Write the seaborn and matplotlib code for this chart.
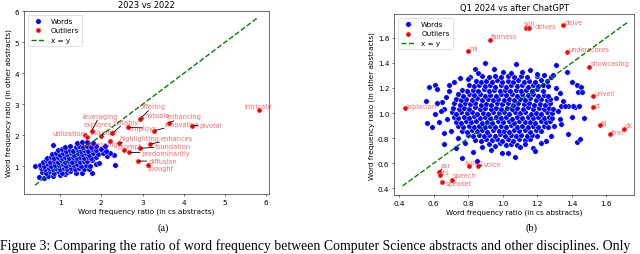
import matplotlib
matplotlib.use("Agg")
import matplotlib.pyplot as plt
import numpy as np
import pandas as pd
import seaborn as sns

# ---------------- panel (a): 2023 vs 2022 ----------------
# ordinary words (ratio in cs abstracts, ratio in other abstracts)
words_a = [
    (0.50, 0.66), (0.60, 0.61), (0.71, 0.70), (0.83, 0.68), (1.00, 0.72), (1.13, 0.74),
    (0.56, 0.82), (0.66, 0.78), (0.75, 0.84), (0.86, 0.80), (0.95, 0.85), (1.05, 0.79),
    (1.16, 0.83), (1.25, 0.84), (1.38, 0.80), (1.53, 0.78), (1.77, 0.77),
    (0.55, 0.95), (0.64, 0.90), (0.73, 0.94), (0.82, 0.91), (0.91, 0.96), (1.00, 0.90),
    (1.09, 0.94), (1.18, 0.92), (1.27, 0.95), (1.36, 0.91), (1.46, 0.94), (1.58, 0.90),
    (1.70, 0.93),
    (0.39, 1.00), (0.52, 1.05), (0.61, 1.02), (0.70, 1.06), (0.79, 1.01), (0.88, 1.05),
    (0.97, 1.03), (1.06, 1.07), (1.15, 1.02), (1.24, 1.06), (1.33, 1.03), (1.42, 1.07),
    (1.51, 1.02), (1.62, 1.05), (1.73, 1.01), (1.86, 1.06), (2.33, 1.05),
    (0.58, 1.15), (0.67, 1.19), (0.76, 1.14), (0.85, 1.18), (0.94, 1.15), (1.03, 1.19),
    (1.12, 1.14), (1.21, 1.18), (1.30, 1.15), (1.39, 1.19), (1.48, 1.14), (1.57, 1.18),
    (1.66, 1.16), (1.78, 1.19), (1.94, 1.12),
    (0.68, 1.27), (0.77, 1.31), (0.86, 1.26), (0.95, 1.30), (1.04, 1.27), (1.13, 1.31),
    (1.22, 1.26), (1.31, 1.30), (1.40, 1.27), (1.49, 1.31), (1.58, 1.26), (1.67, 1.30),
    (1.76, 1.27), (1.88, 1.30), (2.13, 1.34), (2.32, 1.36),
    (0.80, 1.40), (0.90, 1.43), (0.99, 1.38), (1.08, 1.42), (1.17, 1.39), (1.26, 1.43),
    (1.35, 1.38), (1.44, 1.42), (1.53, 1.39), (1.62, 1.43), (1.71, 1.38), (1.80, 1.42),
    (1.92, 1.40), (2.05, 1.44), (2.20, 1.42),
    (0.95, 1.52), (1.05, 1.55), (1.14, 1.50), (1.23, 1.54), (1.32, 1.51), (1.41, 1.55),
    (1.50, 1.50), (1.59, 1.54), (1.68, 1.51), (1.77, 1.55), (1.88, 1.52), (2.00, 1.55),
    (2.12, 1.50),
    (0.84, 1.69), (1.12, 1.62), (1.25, 1.66), (1.38, 1.63), (1.47, 1.67), (1.56, 1.62),
    (1.66, 1.66), (1.76, 1.63), (1.87, 1.67), (2.09, 1.66),
    (1.42, 1.74), (1.54, 1.79), (1.66, 1.79), (1.80, 1.75),
]

outlier_words_a = [
    "offering", "notable", "leveraging", "explores", "utilization", "valuable",
    "notably", "employs", "addressing", "highlighting", "prompt", "predominantly",
    "foundation", "enhances", "innovative", "enhancing", "pivotal", "diffusion",
    "thought", "intricate",
]
outliers_a = [
    (2.96, 2.56), (2.93, 2.52), (1.77, 2.15), (1.61, 2.02), (1.66, 1.95), (2.00, 1.97),
    (2.27, 2.07), (2.64, 2.26), (2.21, 1.83), (2.43, 1.74), (2.56, 1.53), (2.67, 1.45),
    (2.93, 1.58), (3.19, 1.72), (3.28, 2.15), (3.64, 2.40), (4.20, 2.31), (2.88, 1.17),
    (3.13, 1.04), (5.82, 2.81),
]
# where each label sits (left edge, vertical centre) and whether a leader line is drawn
labels_at_a = [
    (2.94, 2.94), (3.04, 2.66), (1.53, 2.63), (1.57, 2.36), (0.82, 2.08), (1.73, 2.10),
    (2.29, 2.44), (2.66, 2.24), (1.53, 1.72), (2.44, 1.91), (2.38, 1.66), (2.97, 1.44),
    (3.31, 1.66), (3.45, 1.90), (3.53, 2.37), (3.59, 2.61), (4.38, 2.33), (3.14, 1.17),
    (3.14, 0.95), (5.47, 2.94),
]
leaders_a = [True, True, True, False, False, True, True, True, False, True, False, True,
             True, True, True, True, True, True, False, False]

# ---------------- panel (b): Q1 2024 vs after ChatGPT ----------------
words_b = [
    (0.921, 0.752), (0.953, 0.741), (0.985, 0.758), (1.018, 0.745), (1.049, 0.755), (1.082, 0.748),
    (0.842, 0.789), (0.874, 0.779), (0.903, 0.792), (0.936, 0.783), (0.967, 0.795), (0.998, 0.781),
    (1.031, 0.790), (1.062, 0.778), (1.093, 0.793), (1.127, 0.784), (1.158, 0.790),
    (0.801, 0.825), (0.829, 0.816), (0.862, 0.829), (0.891, 0.818), (0.922, 0.827), (0.954, 0.815),
    (0.983, 0.830), (1.014, 0.819), (1.046, 0.826), (1.077, 0.814), (1.108, 0.828), (1.139, 0.820),
    (1.171, 0.825), (1.199, 0.816),
    (0.762, 0.861), (0.793, 0.852), (0.824, 0.864), (0.851, 0.855), (0.883, 0.862), (0.912, 0.850),
    (0.945, 0.866), (0.976, 0.854), (1.005, 0.861), (1.036, 0.851), (1.068, 0.865), (1.097, 0.856),
    (1.129, 0.862), (1.160, 0.852), (1.191, 0.864), (1.224, 0.857),
    (0.741, 0.897), (0.770, 0.889), (0.803, 0.899), (0.833, 0.888), (0.864, 0.900), (0.896, 0.891),
    (0.926, 0.898), (0.957, 0.886), (0.990, 0.899), (1.021, 0.890), (1.051, 0.902), (1.083, 0.887),
    (1.113, 0.896), (1.144, 0.889), (1.176, 0.901), (1.206, 0.892), (1.237, 0.897), (1.262, 0.886),
    (0.728, 0.932), (0.757, 0.924), (0.788, 0.935), (0.818, 0.926), (0.848, 0.937), (0.879, 0.925),
    (0.911, 0.933), (0.941, 0.922), (0.972, 0.936), (1.004, 0.927), (1.035, 0.934), (1.066, 0.923),
    (1.097, 0.937), (1.128, 0.928), (1.159, 0.933), (1.190, 0.921), (1.221, 0.935), (1.253, 0.926),
    (1.272, 0.938),
    (0.716, 0.968), (0.744, 0.959), (0.775, 0.971), (0.806, 0.962), (0.836, 0.973), (0.867, 0.960),
    (0.897, 0.970), (0.929, 0.958), (0.960, 0.972), (0.990, 0.963), (1.021, 0.969), (1.053, 0.957),
    (1.083, 0.971), (1.114, 0.962), (1.146, 0.970), (1.177, 0.958), (1.207, 0.972), (1.238, 0.961),
    (1.268, 0.969), (1.288, 0.958),
    (0.709, 1.005), (0.731, 0.995), (0.761, 1.007), (0.792, 0.998), (0.822, 1.009), (0.853, 0.996),
    (0.884, 1.004), (0.915, 0.994), (0.946, 1.008), (0.977, 0.999), (1.007, 1.006), (1.038, 0.993),
    (1.069, 1.005), (1.100, 0.997), (1.131, 1.009), (1.162, 0.996), (1.193, 1.004), (1.224, 0.995),
    (1.255, 1.008), (1.286, 0.999),
    (0.713, 1.041), (0.745, 1.031), (0.776, 1.043), (0.806, 1.034), (0.837, 1.045), (0.868, 1.032),
    (0.899, 1.040), (0.930, 1.030), (0.961, 1.044), (0.992, 1.035), (1.023, 1.042), (1.054, 1.029),
    (1.085, 1.041), (1.116, 1.033), (1.147, 1.045), (1.178, 1.032), (1.209, 1.040), (1.240, 1.031),
    (1.271, 1.044), (1.294, 1.036),
    (0.718, 1.077), (0.750, 1.068), (0.781, 1.079), (0.812, 1.070), (0.842, 1.081), (0.873, 1.067),
    (0.904, 1.076), (0.935, 1.066), (0.966, 1.080), (0.997, 1.071), (1.028, 1.078), (1.059, 1.065),
    (1.090, 1.077), (1.121, 1.069), (1.152, 1.081), (1.183, 1.068), (1.214, 1.076), (1.245, 1.067),
    (1.276, 1.079),
    (0.727, 1.113), (0.758, 1.104), (0.790, 1.115), (0.821, 1.106), (0.851, 1.117), (0.882, 1.103),
    (0.913, 1.112), (0.944, 1.102), (0.975, 1.116), (1.006, 1.107), (1.037, 1.114), (1.068, 1.101),
    (1.099, 1.113), (1.130, 1.105), (1.161, 1.117), (1.192, 1.104), (1.223, 1.112), (1.256, 1.103),
    (1.274, 1.115),
    (0.743, 1.149), (0.772, 1.140), (0.805, 1.151), (0.836, 1.142), (0.866, 1.153), (0.897, 1.139),
    (0.928, 1.148), (0.959, 1.138), (0.990, 1.152), (1.021, 1.143), (1.052, 1.150), (1.083, 1.137),
    (1.114, 1.149), (1.145, 1.141), (1.176, 1.153), (1.207, 1.140), (1.238, 1.148), (1.262, 1.138),
    (0.765, 1.185), (0.796, 1.176), (0.827, 1.187), (0.858, 1.178), (0.889, 1.189), (0.920, 1.175),
    (0.951, 1.184), (0.982, 1.174), (1.013, 1.188), (1.044, 1.179), (1.075, 1.186), (1.106, 1.173),
    (1.137, 1.185), (1.168, 1.177), (1.199, 1.189), (1.232, 1.176),
    (0.803, 1.221), (0.834, 1.212), (0.865, 1.223), (0.896, 1.214), (0.927, 1.225), (0.958, 1.211),
    (0.989, 1.220), (1.020, 1.210), (1.051, 1.224), (1.082, 1.215), (1.113, 1.222), (1.144, 1.209),
    (1.175, 1.221), (1.204, 1.213), (1.236, 1.226), (1.262, 1.218),
    (0.843, 1.257), (0.874, 1.248), (0.905, 1.259), (0.936, 1.250), (0.967, 1.261), (0.998, 1.247),
    (1.029, 1.256), (1.060, 1.246), (1.091, 1.260), (1.122, 1.251), (1.153, 1.258), (1.186, 1.249),
    (1.221, 1.262), (1.256, 1.255),
    (0.883, 1.293), (0.921, 1.284), (0.957, 1.296), (0.993, 1.287), (1.030, 1.298), (1.068, 1.286),
    (1.104, 1.294), (1.143, 1.289), (1.198, 1.297), (1.281, 1.288),
    # sparse points round the core
    (0.557, 1.098), (0.574, 1.210), (0.610, 1.220), (0.620, 1.190), (0.564, 0.920), (0.590, 0.890),
    (0.610, 0.990), (0.660, 0.750), (0.730, 0.720), (0.765, 0.640), (0.850, 0.620), (0.830, 0.690),
    (0.995, 0.680), (1.030, 0.680), (1.070, 0.650), (1.175, 0.720), (1.190, 0.700), (1.376, 0.830),
    (1.430, 0.770), (1.450, 0.790), (1.470, 0.960), (1.420, 1.050), (1.440, 1.060), (1.400, 1.245),
    (1.430, 1.220), (1.455, 1.210), (1.436, 1.170), (1.460, 1.170), (1.410, 1.060), (1.380, 1.060),
    (1.400, 0.970), (1.340, 1.060), (1.360, 1.060), (1.330, 0.950), (1.340, 0.910), (0.900, 1.400),
    (0.840, 1.350), (0.950, 1.350), (1.080, 1.390), (1.110, 1.330), (1.160, 1.340), (1.310, 1.380),
    (1.370, 1.330), (1.290, 1.300), (0.810, 1.290), (0.800, 1.270),
    (0.650, 1.090), (0.660, 1.030), (0.680, 0.950), (0.670, 1.130), (0.690, 1.180), (0.700, 0.860),
    (0.660, 0.840), (0.690, 1.220), (0.720, 1.250), (0.750, 1.280), (0.740, 0.800), (0.780, 0.760),
    (1.310, 1.120), (1.320, 1.020), (1.300, 0.900), (1.310, 1.200), (1.280, 0.820), (1.250, 0.780),
    (1.220, 0.760), (1.330, 1.160), (1.350, 1.100), (0.880, 0.730), (0.930, 0.710), (1.100, 0.730),
    (1.130, 0.750), (0.860, 1.320), (1.000, 1.330), (1.050, 1.320), (1.200, 1.310), (1.240, 1.300),
    (0.620, 1.080), (0.640, 1.020), (0.630, 0.930),
]

outlier_words_b = [
    "soil", "delves", "delve", "fairness", "mi", "underscores", "showcasing", "unveil",
    "laplacian", "ct", "fd", "dk", "fmri", "asr", "tts", "speech", "speaker", "audio", "voice",
]
outliers_b = [
    (1.134, 1.678), (1.155, 1.678), (1.349, 1.700), (0.928, 1.584), (0.800, 1.496),
    (1.374, 1.486), (1.500, 1.366), (1.526, 1.134), (0.435, 1.037), (1.526, 1.045),
    (1.565, 0.904), (1.705, 0.877), (1.619, 0.832), (0.632, 0.530), (0.638, 0.510),
    (0.705, 0.470), (0.649, 0.450), (0.806, 0.578), (0.858, 0.578),
]
labels_at_b = [
    (1.121, 1.720), (1.185, 1.690), (1.358, 1.726), (0.933, 1.613), (0.808, 1.518),
    (1.381, 1.512), (1.507, 1.397), (1.530, 1.160), (0.440, 1.058), (1.532, 1.064),
    (1.571, 0.925), (1.706, 0.904), (1.627, 0.850), (0.638, 0.590), (0.642, 0.530),
    (0.711, 0.504), (0.667, 0.446), (0.781, 0.614), (0.889, 0.592),
]
leaders_b = [False, False, False, False, False, False, False, False, False, False,
             False, False, False, True, False, False, False, False, True]

plt.rcParams["font.family"] = ["DejaVu Sans"]
plt.rcParams["font.size"] = 10


def draw_panel(ax, words, out_words, out_pts, labels_at, leaders, title, line_range, xlim, ylim):
    words_df = pd.DataFrame(words, columns=["cs", "other"])
    out_df = pd.DataFrame(out_pts, columns=["cs", "other"])
    sns.scatterplot(data=words_df, x="cs", y="other", color="blue", s=62,
                    label="Words", ax=ax)
    sns.scatterplot(data=out_df, x="cs", y="other", color="red", s=55,
                    label="Outliers", ax=ax)
    ax.plot(line_range, line_range, "--", color="green", lw=2, label="x = y")

    for word, pt, pos, lead in zip(out_words, out_pts, labels_at, leaders):
        arrow = dict(arrowstyle="-", color="black", lw=1.2, shrinkA=0, shrinkB=2) if lead else None
        ax.annotate(word, xy=pt, xytext=pos, color="red", alpha=0.6, fontsize=9.5,
                    ha="left", va="center", arrowprops=arrow)

    ax.set_xlim(*xlim)
    ax.set_ylim(*ylim)
    ax.set_title(title, fontsize=12)
    ax.set_xlabel("Word frequency ratio (in cs abstracts)", fontsize=10.5)
    ax.set_ylabel("Word frequency ratio (in other abstracts)", fontsize=10.5)
    ax.tick_params(labelsize=10.5)
    ax.legend(loc="upper left", fontsize=10.5)


fig = plt.figure(figsize=(12.8, 5.1), dpi=50)
ax_a = fig.add_axes([0.0375, 0.235, 0.383, 0.718])
ax_b = fig.add_axes([0.616, 0.231, 0.375, 0.710])

draw_panel(ax_a, words_a, outlier_words_a, outliers_a, labels_at_a, leaders_a,
           "2023 vs 2022", [0.39, 5.80], (0.126, 6.07), (0.106, 6.01))
draw_panel(ax_b, words_b, outlier_words_b, outliers_b, labels_at_b, leaders_b,
           "Q1 2024 vs after ChatGPT", [0.42, 1.72], (0.372, 1.762), (0.347, 1.789))

# sub-figure captions and the start of the figure caption
fig.text(163 / 640, 0.104, "(a)", family="Liberation Serif", fontsize=15, ha="center", va="center")
fig.text(531 / 640, 0.104, "(b)", family="Liberation Serif", fontsize=15, ha="center", va="center")
fig.text(0.0, 0.018, "Figure 3: Comparing the ratio of word frequency between Computer Science "
         "abstracts and other disciplines. Only", family="Liberation Serif", fontsize=19.8,
         ha="left", va="baseline")

fig.savefig("out.png", dpi=50)
